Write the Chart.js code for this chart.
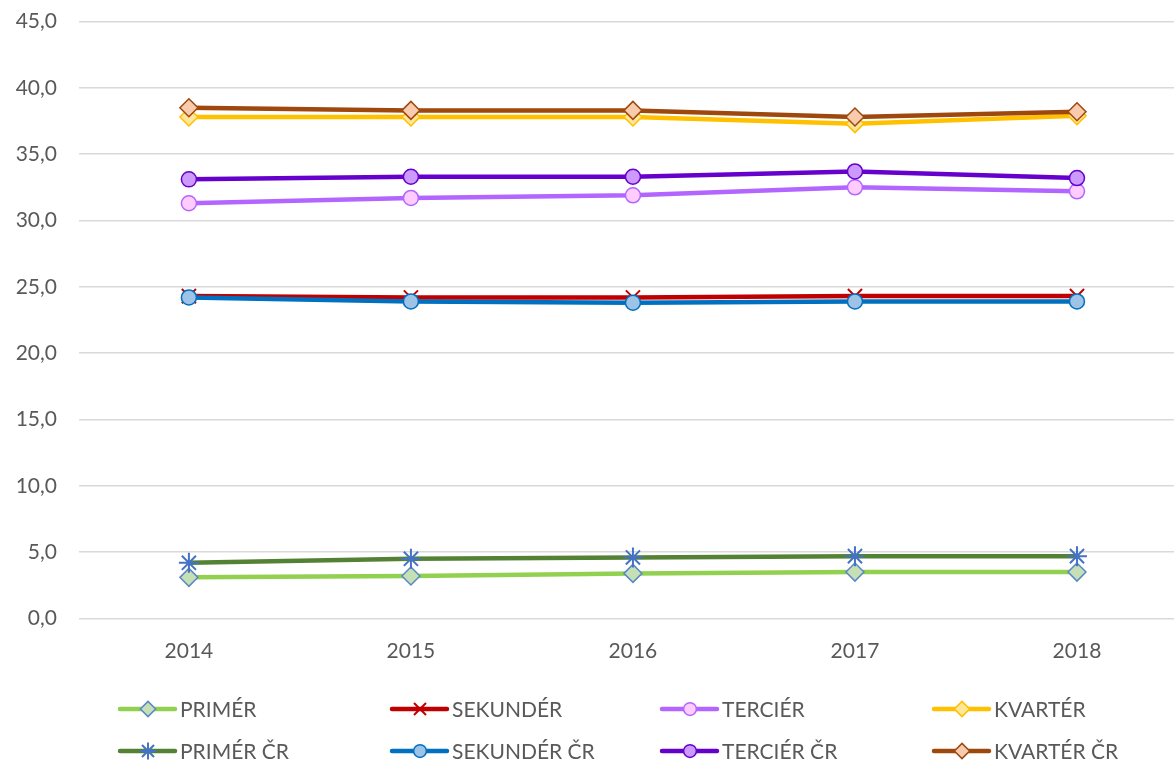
<!DOCTYPE html>
<html>
<head>
<meta charset="utf-8">
<script src="https://cdn.jsdelivr.net/npm/chart.js@4.4.0/dist/chart.umd.min.js"></script>
<style>
  html, body { margin: 0; padding: 0; background: #fff; overflow: hidden; }
  #wrap { width: 1174px; height: 762px; }
</style>
</head>
<body>
<div id="wrap"><canvas id="sectorChart" width="1174" height="762"></canvas></div>
<script>
// Data
const years = [2014, 2015, 2016, 2017, 2018];
const yTicks = [0, 5, 10, 15, 20, 25, 30, 35, 40, 45];

const primer = [3.1, 3.2, 3.4, 3.5, 3.5];
const sekunder = [24.3, 24.2, 24.2, 24.3, 24.3];
const tercier = [31.3, 31.7, 31.9, 32.5, 32.2];
const kvarter = [37.8, 37.8, 37.8, 37.3, 37.9];
const primerCR = [4.2, 4.5, 4.6, 4.7, 4.7];
const sekunderCR = [24.2, 23.9, 23.8, 23.9, 23.9];
const tercierCR = [33.1, 33.3, 33.3, 33.7, 33.2];
const kvarterCR = [38.5, 38.3, 38.3, 37.8, 38.2];

const seriesLabels = ['PRIMÉR', 'SEKUNDÉR', 'TERCIÉR', 'KVARTÉR', 'PRIMÉR ČR', 'SEKUNDÉR ČR', 'TERCIÉR ČR', 'KVARTÉR ČR'];
const seriesValues = [primer, sekunder, tercier, kvarter, primerCR, sekunderCR, tercierCR, kvarterCR];

const FONT = 'Lato, "Open Sans", sans-serif';
const TEXT_COLOR = '#595959';

// Line + marker styles per series
const styles = [
  { line: '#92D050', style: 'rectRot', radius: 9, fill: '#C5E0B4', border: '#5B87C6', bw: 1.5 },
  { line: '#C00000', style: 'crossRot', radius: 10, fill: '#C00000', border: '#C00000', bw: 2 },
  { line: '#B266FF', style: 'circle', radius: 7.5, fill: '#FFCCFF', border: '#B266FF', bw: 1.5 },
  { line: '#FFC000', style: 'rectRot', radius: 9, fill: '#FFE699', border: '#FFC000', bw: 1.5 },
  { line: '#548235', style: 'star', radius: 10, fill: '#4472C4', border: '#4472C4', bw: 2 },
  { line: '#0070C0', style: 'circle', radius: 7.5, fill: '#9DC3E6', border: '#0070C0', bw: 1.5 },
  { line: '#6600CC', style: 'circle', radius: 7.5, fill: '#CC99FF', border: '#6600CC', bw: 1.5 },
  { line: '#9E480E', style: 'rectRot', radius: 9, fill: '#F8CBAD', border: '#9E480E', bw: 1.5 }
];

const datasets = seriesValues.map((vals, i) => ({
  label: seriesLabels[i],
  data: vals.map((v, j) => ({ x: years[j], y: v })),
  borderColor: styles[i].line,
  borderWidth: 4.5,
  pointStyle: styles[i].style,
  pointRadius: styles[i].radius,
  pointBackgroundColor: styles[i].fill,
  pointBorderColor: styles[i].border,
  pointBorderWidth: styles[i].bw,
  tension: 0,
  clip: false,
  order: seriesLabels.length - i // later series drawn on top, like Excel
}));

// Legend drawn at fixed column positions (2 rows x 4 columns)
const legendCols = [120, 392, 662, 934];
const legendRows = [709, 751];

const gridLegend = {
  id: 'gridLegend',
  afterDraw(chart) {
    const ctx = chart.ctx;
    ctx.save();
    chart.data.datasets.forEach((ds, i) => {
      const x = legendCols[i % 4];
      const y = legendRows[Math.floor(i / 4)];
      ctx.strokeStyle = ds.borderColor;
      ctx.lineWidth = 4.5;
      ctx.lineCap = 'round';
      ctx.beginPath();
      ctx.moveTo(x, y);
      ctx.lineTo(x + 55, y);
      ctx.stroke();
      ctx.lineCap = 'butt';
      ctx.fillStyle = ds.pointBackgroundColor;
      ctx.strokeStyle = ds.pointBorderColor;
      ctx.lineWidth = ds.pointBorderWidth;
      Chart.helpers.drawPoint(ctx, {
        pointStyle: ds.pointStyle,
        radius: ds.pointRadius * 0.85,
        rotation: 0,
        borderWidth: ds.pointBorderWidth
      }, x + 28, y);
      ctx.fillStyle = TEXT_COLOR;
      ctx.font = '21px ' + FONT;
      ctx.textBaseline = 'middle';
      ctx.textAlign = 'left';
      ctx.fillText(ds.label, x + 60, y + 1);
    });
    ctx.restore();
  }
};

new Chart(document.getElementById('sectorChart'), {
  type: 'line',
  data: { datasets },
  options: {
    responsive: false,
    animation: false,
    devicePixelRatio: 1,
    layout: { autoPadding: false, padding: { top: 21.5, right: 0, bottom: 0, left: 0 } },
    plugins: {
      legend: { display: false },
      tooltip: { enabled: false }
    },
    scales: {
      x: {
        type: 'linear',
        min: 2013.505,
        max: 2018.437,
        grid: { display: false, drawTicks: false },
        border: { display: false },
        afterBuildTicks: scale => { scale.ticks = years.map(v => ({ value: v })); },
        afterFit: scale => { scale.height = 143.5; },
        ticks: {
          padding: 20,
          color: TEXT_COLOR,
          font: { family: FONT, size: 21 },
          callback: v => String(v)
        }
      },
      y: {
        min: 0,
        max: 45,
        grid: { color: '#D9D9D9', lineWidth: 1.5, drawTicks: false },
        border: { display: false },
        afterBuildTicks: scale => { scale.ticks = yTicks.map(v => ({ value: v })); },
        afterFit: scale => {
          // fixed axis width; label overhang is covered by the layout padding
          scale.width = 79;
          scale.paddingTop = 0;
          scale.paddingBottom = 0;
        },
        ticks: {
          padding: 22,
          color: TEXT_COLOR,
          font: { family: FONT, size: 21 },
          callback: v => v.toFixed(1).replace('.', ',')
        }
      }
    }
  },
  plugins: [gridLegend]
});
</script>
</body>
</html>
